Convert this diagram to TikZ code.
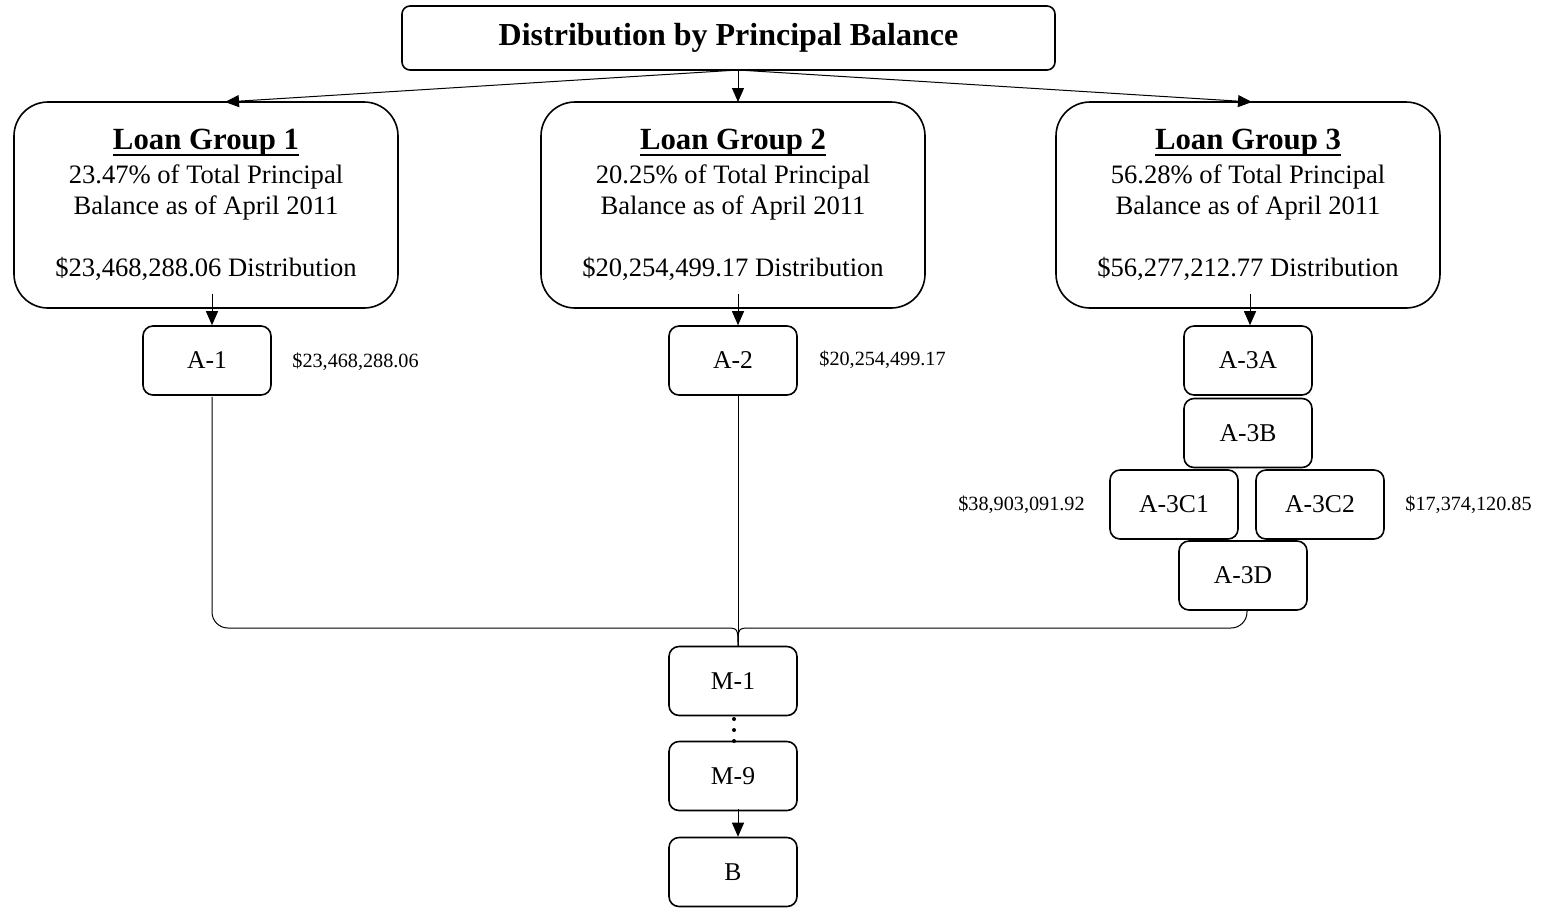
\documentclass[tikz,border=0pt]{standalone}
\usepackage{fontspec}
\setmainfont{Liberation Serif}
\usetikzlibrary{arrows.meta}
% heading underline at a fixed depth below the baseline
\newcommand{\headrule}[1]{\setbox0\hbox{#1}\rlap{\rule[-3pt]{\wd0}{1pt}}\box0}
\begin{document}
\begin{tikzpicture}[x=0.5pt,y=-0.5pt,
  box/.style={draw,line width=0.8pt,rounded corners=5pt,minimum width=64pt,minimum height=34.5pt,inner sep=0pt,font=\fontsize{12.8}{14}\selectfont},
  group/.style={draw,line width=0.8pt,rounded corners=17pt,minimum width=192pt,minimum height=103pt,inner sep=0pt,align=center,font=\fontsize{13.3}{15.5}\selectfont},
  amount/.style={anchor=west,inner sep=0pt,font=\fontsize{10.1}{12}\selectfont},
  link/.style={line width=0.5pt},
  arr/.style={link,-{Triangle[length=7pt,width=6pt]}}]
\useasboundingbox (0,0) rectangle (1541,907);

% title
\node[draw,line width=0.8pt,rounded corners=4pt,minimum width=326.5pt,minimum height=32pt,inner sep=0pt,
  font=\fontsize{16}{18}\bfseries] (title) at (728.5,38) {Distribution by Principal Balance};

% loan groups
\newcommand{\grouptext}[3]{{\fontsize{15.4}{17}\bfseries\headrule{Loan Group #1}}\\[1.5pt]#2\% of Total Principal\\Balance as of April 2011\\[15.5pt]\$#3 Distribution}
\node[group] (g1) at (206,205) {\grouptext{1}{23.47}{23,468,288.06}};
\node[group] (g2) at (733,205) {\grouptext{2}{20.25}{20,254,499.17}};
\node[group] (g3) at (1248,205) {\grouptext{3}{56.28}{56,277,212.77}};

% classes
\node[box] (a1) at (207,360.5) {A-1};
\node[box] (a2) at (733,360.5) {A-2};
\node[box] (a3a) at (1248,360.5) {A-3A};
\node[box] (a3b) at (1248,433) {A-3B};
\node[box] (a3c1) at (1174,504.5) {A-3C1};
\node[box] (a3c2) at (1320,504.5) {A-3C2};
\node[box] (a3d) at (1243,575.5) {A-3D};
\node[box] (m1) at (733,681) {M-1};
\node[box] (m9) at (733,776) {M-9};
\node[box] (b) at (733,872) {B};

% amounts
\node[amount] (v1) at (292,362) {\$23,468,288.06};
\node[amount] (v2) at (819,360) {\$20,254,499.17};
\node[amount,anchor=east] (v3) at (1085,505) {\$38,903,091.92};
\node[amount] (v4) at (1405,505) {\$17,374,120.85};

% arrows from the title
\coordinate (src) at (738,70);
\coordinate (t1) at (225,102);
\coordinate (t2) at (738,102);
\coordinate (t3) at (1252,102);
\draw[arr] (src) -- (t1);
\draw[arr] (src) -- (t2);
\draw[arr] (src) -- (t3);

% arrows from the groups to the first classes
\draw[arr] ([xshift=3pt,yshift=7.5pt]g1.south) -- ([xshift=2.5pt]a1.north);
\draw[arr] ([xshift=2.5pt,yshift=7.5pt]g2.south) -- ([xshift=2.5pt]a2.north);
\draw[arr] ([xshift=1pt,yshift=7.5pt]g3.south) -- ([xshift=1pt]a3a.north);

% merging paths into M-1
\coordinate (mtop) at (738,646);
\coordinate (jl) at (725,628);
\coordinate (jm) at (738,628);
\coordinate (jr) at (751,628);
\draw[link,rounded corners=8pt] ([xshift=2.5pt,yshift=-0.5pt]a1.south) |- (jl);
\draw[link] (jl) .. controls (jm) .. (mtop);
\draw[link] ([xshift=2.5pt,yshift=0.5pt]a2.south) -- (mtop);
\draw[link,rounded corners=8pt] ([xshift=2pt]a3d.south) |- (jr);
\draw[link] (jr) .. controls (jm) .. (mtop);

% dots between M-1 and M-9
\foreach \yy in {719,730,741} \fill (734,\yy) circle (1pt);

% M-9 to B
\draw[arr] ([xshift=2.5pt,yshift=1pt]m9.south) -- ([xshift=2.5pt]b.north);
\end{tikzpicture}
\end{document}
